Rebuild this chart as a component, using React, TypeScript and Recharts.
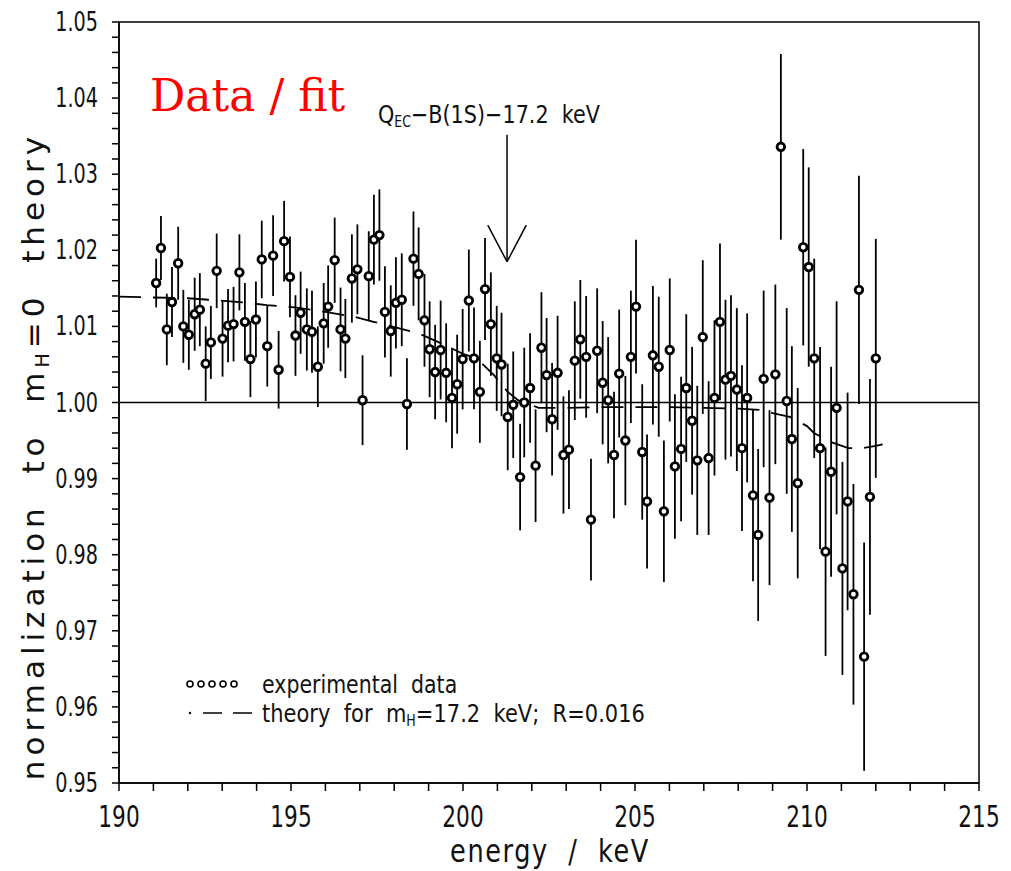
import React from 'react'
import {
  ComposedChart, Scatter, Line, XAxis, YAxis, ErrorBar,
  ReferenceLine, ReferenceArea,
} from 'recharts'

// measured points: energy (keV), ratio data/theory(mH=0), 1-sigma error
const energies = [
  191.08, 191.22, 191.39, 191.54, 191.72, 191.87, 192.03, 192.20, 192.35, 192.52,
  192.67, 192.84, 193.01, 193.17, 193.33, 193.50, 193.66, 193.82, 193.98, 194.15,
  194.31, 194.48, 194.64, 194.80, 194.97, 195.13, 195.28, 195.46, 195.61, 195.78,
  195.95, 196.08, 196.27, 196.44, 196.58, 196.77, 196.93, 197.08, 197.26, 197.41,
  197.57, 197.73, 197.90, 198.05, 198.22, 198.37, 198.56, 198.71, 198.88, 199.03,
  199.19, 199.35, 199.51, 199.68, 199.83, 199.99, 200.17, 200.32, 200.49, 200.64,
  200.81, 200.98, 201.12, 201.30, 201.46, 201.66, 201.78, 201.95, 202.11, 202.28,
  202.43, 202.59, 202.75, 202.92, 203.08, 203.25, 203.41, 203.58, 203.72, 203.90,
  204.06, 204.22, 204.39, 204.54, 204.72, 204.88, 205.03, 205.21, 205.35, 205.52,
  205.69, 205.84, 206.01, 206.16, 206.34, 206.49, 206.66, 206.81, 206.97, 207.14,
  207.31, 207.47, 207.63, 207.79, 207.96, 208.11, 208.26, 208.43, 208.58, 208.74,
  208.91, 209.08, 209.24, 209.41, 209.56, 209.73, 209.89, 210.05, 210.21, 210.38,
  210.54, 210.70, 210.86, 211.03, 211.18, 211.35, 211.51, 211.66, 211.83, 212.00,
]

const ratios = [
  1.0157, 1.0203, 1.0096, 1.0132, 1.0183, 1.0100, 1.0089, 1.0116, 1.0122, 1.0051,
  1.0079, 1.0173, 1.0084, 1.0101, 1.0103, 1.0171, 1.0106, 1.0057, 1.0109, 1.0188,
  1.0074, 1.0193, 1.0043, 1.0212, 1.0165, 1.0088, 1.0118, 1.0096, 1.0093, 1.0047,
  1.0104, 1.0126, 1.0187, 1.0096, 1.0084, 1.0163, 1.0175, 1.0003, 1.0166, 1.0214,
  1.0220, 1.0119, 1.0094, 1.0131, 1.0135, 0.9998, 1.0189, 1.0169, 1.0108, 1.0070,
  1.0040, 1.0069, 1.0039, 1.0006, 1.0024, 1.0057, 1.0134, 1.0058, 1.0014, 1.0149,
  1.0103, 1.0058, 1.0050, 0.9981, 0.9997, 0.9902, 1.0000, 1.0019, 0.9917, 1.0072,
  1.0036, 0.9978, 1.0039, 0.9931, 0.9938, 1.0055, 1.0083, 1.0060, 0.9846, 1.0068,
  1.0026, 1.0003, 0.9931, 1.0038, 0.9950, 1.0060, 1.0126, 0.9935, 0.9870, 1.0062,
  1.0047, 0.9857, 1.0069, 0.9916, 0.9939, 1.0019, 0.9976, 0.9924, 1.0086, 0.9927,
  1.0006, 1.0106, 1.0030, 1.0035, 1.0017, 0.9940, 1.0006, 0.9878, 0.9826, 1.0031,
  0.9875, 1.0037, 1.0336, 1.0002, 0.9952, 0.9894, 1.0204, 1.0178, 1.0058, 0.9940,
  0.9804, 0.9909, 0.9993, 0.9782, 0.9870, 0.9748, 1.0148, 0.9666, 0.9876, 1.0058,
]

const errors = [
  0.0032, 0.0042, 0.0047, 0.0046, 0.0048, 0.0048, 0.0046, 0.0048, 0.0048, 0.0049,
  0.0048, 0.0049, 0.0050, 0.0048, 0.0049, 0.0050, 0.0051, 0.0050, 0.0050, 0.0051,
  0.0053, 0.0053, 0.0051, 0.0053, 0.0053, 0.0053, 0.0054, 0.0054, 0.0054, 0.0053,
  0.0053, 0.0054, 0.0056, 0.0055, 0.0052, 0.0058, 0.0059, 0.0059, 0.0059, 0.0059,
  0.0060, 0.0060, 0.0060, 0.0060, 0.0061, 0.0060, 0.0062, 0.0061, 0.0061, 0.0063,
  0.0062, 0.0065, 0.0065, 0.0066, 0.0065, 0.0066, 0.0067, 0.0067, 0.0067, 0.0067,
  0.0068, 0.0069, 0.0068, 0.0070, 0.0070, 0.0070, 0.0072, 0.0072, 0.0074, 0.0073,
  0.0075, 0.0074, 0.0075, 0.0077, 0.0078, 0.0078, 0.0078, 0.0080, 0.0080, 0.0082,
  0.0081, 0.0083, 0.0083, 0.0084, 0.0085, 0.0087, 0.0088, 0.0089, 0.0088, 0.0091,
  0.0092, 0.0093, 0.0094, 0.0095, 0.0095, 0.0097, 0.0097, 0.0098, 0.0101, 0.0101,
  0.0102, 0.0103, 0.0105, 0.0106, 0.0107, 0.0109, 0.0111, 0.0113, 0.0113, 0.0116,
  0.0115, 0.0118, 0.0122, 0.0122, 0.0122, 0.0125, 0.0129, 0.0131, 0.0131, 0.0133,
  0.0137, 0.0138, 0.0140, 0.0140, 0.0143, 0.0145, 0.0150, 0.0150, 0.0155, 0.0157,
]

// theory curve for mH = 17.2 keV, R = 0.016
const theoryEnergies = [
  190.0, 191.0, 192.0, 192.6, 193.5, 194.3, 195.1, 196.0, 196.8, 197.4,
  198.7, 199.3, 200.0, 200.4, 200.9, 201.3, 201.6, 202.2, 203.0, 204.0,
  205.0, 206.0, 207.0, 208.0, 208.7, 209.0, 209.5, 210.0, 210.2, 210.7,
  211.2, 211.6, 212.0, 212.2,
]
const theoryValues = [
  1.0139, 1.0138, 1.0137, 1.0135, 1.0132, 1.0128, 1.0125, 1.0119, 1.0113, 1.0106,
  1.0091, 1.0079, 1.0064, 1.0058, 1.0036, 1.0014, 1.0003, 0.9993, 0.9993, 0.9994,
  0.9994, 0.9994, 0.9993, 0.9992, 0.9990, 0.9986, 0.9981, 0.9969, 0.9960, 0.9948,
  0.9940, 0.9940, 0.9943, 0.9945,
]

const xMajor = [190, 195, 200, 205, 210, 215]
const yMajor = [0.95, 0.96, 0.97, 0.98, 0.99, 1.0, 1.01, 1.02, 1.03, 1.04, 1.05]
const yMajorLabels = ['0.95', '0.96', '0.97', '0.98', '0.99', '1.00', '1.01', '1.02', '1.03', '1.04', '1.05']

// arrow marking Q_EC - B(1S) - 17.2 keV
const arrowEnergy = 201.28
const arrowTop = 1.0352
const arrowTip = 1.0185
const arrowHeadY = 1.0233
const arrowHeadHalf = 0.56

const points = energies.map((x, i) => ({ x, y: ratios[i], err: errors[i] }))
const theory = theoryEnergies.map((x, i) => ({ x, v: theoryValues[i] }))

const xTicks: number[] = []
for (let v = 190; v <= 215; v++) xTicks.push(v)
const yTicks: number[] = []
for (let k = 0; k <= 50; k++) yTicks.push(Math.round((0.95 + k * 0.002) * 1000) / 1000)

const FONT = '"DejaVu Sans", sans-serif'
const INK = '#111'

// narrow plotter-style text: DejaVu squeezed horizontally
function NarrowText({ x, y, size, squeeze = 0.74, anchor = 'start', spacing = 0, children }: any) {
  return (
    <text
      transform={`translate(${x} ${y}) scale(${squeeze} 1)`}
      fontSize={size} fontFamily={FONT} fill={INK} textAnchor={anchor}
      letterSpacing={spacing} style={{ whiteSpace: 'pre' }}
    >
      {children}
    </text>
  )
}

function XTick({ x, y, payload }: any) {
  if (!xMajor.includes(payload.value)) return null
  return <NarrowText x={x} y={y + 34} size={31} squeeze={0.7} anchor="middle">{String(payload.value)}</NarrowText>
}

function YTick({ x, y, payload }: any) {
  const i = yMajor.findIndex(v => Math.abs(v - payload.value) < 1e-6)
  if (i < 0) return null
  return <NarrowText x={x - 12} y={y + 9} size={26} squeeze={0.74} anchor="end">{yMajorLabels[i]}</NarrowText>
}

function Dot({ cx, cy }: any) {
  return <circle cx={cx} cy={cy} r={3.8} fill="#fff" stroke="#000" strokeWidth={2.8} />
}

export default function App() {
  return (
    <div style={{ position: 'absolute', left: 0, top: 0, width: 1011, height: 871, background: '#fff' }}>
      <ComposedChart width={1011} height={871} margin={{ top: 22, right: 32, left: 39, bottom: 48 }}>
        <XAxis
          type="number" dataKey="x" domain={[190, 215]} ticks={xTicks} interval={0}
          allowDataOverflow tickSize={8} tick={<XTick />}
          axisLine={{ stroke: '#000', strokeWidth: 1.5 }} tickLine={{ stroke: '#000', strokeWidth: 1.5 }}
          height={40}
        />
        <YAxis
          type="number" domain={[0.95, 1.05]} ticks={yTicks} interval={0}
          allowDataOverflow tickSize={7} tick={<YTick />}
          axisLine={{ stroke: '#000', strokeWidth: 1.5 }} tickLine={{ stroke: '#000', strokeWidth: 1.5 }}
          width={80}
        />
        <ReferenceArea x1={190} x2={215} y1={0.95} y2={1.05} fill="none" stroke="#000" strokeWidth={1.5} />
        <ReferenceLine y={1.0} stroke="#000" strokeWidth={1.5} />
        <ReferenceLine segment={[{ x: arrowEnergy, y: arrowTop }, { x: arrowEnergy, y: arrowTip }]} stroke="#000" strokeWidth={1.5} />
        <ReferenceLine segment={[{ x: arrowEnergy - arrowHeadHalf, y: arrowHeadY }, { x: arrowEnergy, y: arrowTip }]} stroke="#000" strokeWidth={1.5} />
        <ReferenceLine segment={[{ x: arrowEnergy + arrowHeadHalf, y: arrowHeadY }, { x: arrowEnergy, y: arrowTip }]} stroke="#000" strokeWidth={1.5} />
        <Line
          data={theory} dataKey="v" type="linear" stroke="#000" strokeWidth={1.8}
          strokeDasharray="22 12" dot={false} isAnimationActive={false}
        />
        <Scatter data={points} dataKey="y" shape={<Dot />} isAnimationActive={false}>
          <ErrorBar dataKey="err" direction="y" width={0} stroke="#000" strokeWidth={1.8} />
        </Scatter>
      </ComposedChart>

      <svg width={1011} height={871} style={{ position: 'absolute', left: 0, top: 0, pointerEvents: 'none' }}>
        <text x={150} y={111} fontSize={44} fontFamily='"DejaVu Serif", serif' fill="#ff0000">Data / fit</text>

        <NarrowText x={378} y={123} size={25} squeeze={0.83}>
          Q<tspan fontSize={15} dy={4}>EC</tspan><tspan dy={-4}>−B(1S)−17.2  keV</tspan>
        </NarrowText>

        {[190, 201, 212, 223, 234].map(cx => (
          <circle key={cx} cx={cx} cy={684} r={3} fill="#fff" stroke="#000" strokeWidth={1.6} />
        ))}
        <NarrowText x={262} y={693} size={25} squeeze={0.82}>experimental  data</NarrowText>
        <circle cx={190} cy={713} r={1.2} fill="#000" />
        <line x1={203} y1={713} x2={222} y2={713} stroke="#000" strokeWidth={1.5} />
        <line x1={233} y1={713} x2={252} y2={713} stroke="#000" strokeWidth={1.5} />
        <NarrowText x={262} y={722} size={25} squeeze={0.84}>
          theory  for  m<tspan fontSize={15} dy={4}>H</tspan><tspan dy={-4}>=17.2  keV;  R=0.016</tspan>
        </NarrowText>

        <NarrowText x={550} y={862} size={32} squeeze={0.8} anchor="middle" spacing={2}>
          energy  /  keV
        </NarrowText>

        <text
          transform="translate(44 456) rotate(-90)" textAnchor="middle" fontSize={31}
          fontFamily={FONT} fill={INK} letterSpacing={5} style={{ whiteSpace: 'pre' }}
        >
          normalization  to  m<tspan fontSize={19} dy={5}>H</tspan><tspan dy={-5}>=0  theory</tspan>
        </text>
      </svg>
    </div>
  )
}
